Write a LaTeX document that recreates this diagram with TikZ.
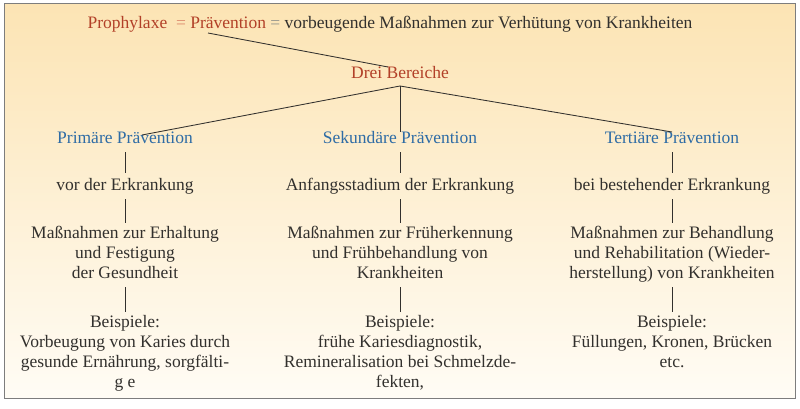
\documentclass[tikz,border=0pt]{standalone}
\usepackage{fontspec}
\setmainfont{Liberation Serif}
\usepackage{tikz}
\usetikzlibrary{positioning}
\definecolor{bgtop}{RGB}{252,228,180}
\definecolor{bgbot}{RGB}{255,252,245}
\definecolor{frame}{RGB}{125,125,125}
\definecolor{redtxt}{RGB}{178,64,40}
\definecolor{eqred}{RGB}{222,140,110}
\definecolor{eqgray}{RGB}{150,150,140}
\definecolor{bluetxt}{RGB}{46,108,165}
\definecolor{inktxt}{RGB}{50,48,45}
\newcommand{\txtfont}{\fontsize{17.5}{20}\selectfont}
\tikzset{
  txt/.style     = {inner sep=0pt, outer sep=3pt, align=center, anchor=north,
                    font=\txtfont, text=inktxt,
                    execute at begin node=\strut, execute at end node=\strut},
  head/.style    = {txt, text=bluetxt},
  EdgeStyle/.style = {draw=inktxt, line width=0.85pt}
}

\begin{document}
\begin{tikzpicture}[x=1pt,y=-1pt]
	\useasboundingbox (0,0) rectangle (800,409);
	\shade[top color=bgtop, bottom color=bgbot] (4,4) rectangle (795,398);
	\draw[frame, line width=1pt] (4,4) rectangle (795,398);
	% title and the three areas
	\node[txt] (title) at (390,12) {{\color{redtxt}Prophylaxe}\ \ {\color{eqred}=}\ {\color{redtxt}Prävention} {\color{eqgray}=} vorbeugende Maßnahmen zur Verhütung von Krankheiten};
	\coordinate (pv) at (208,33);
	\node[txt, text=redtxt] (drei) at (400,62) {Drei Bereiche};
	\node[head] (prim) at (125,126) {Primäre Prävention};
	\node[head] (sek) at (400,126) {Sekundäre Prävention};
	\node[head] (tert) at (672,126) {Tertiäre Prävention};
	% when
	\node[txt] (primwann) at (125,173) {vor der Erkrankung};
	\node[txt] (sekwann) at (400,173) {Anfangsstadium der Erkrankung};
	\node[txt] (tertwann) at (672,173) {bei bestehender Erkrankung};
	% measures
	\node[txt] (primziel) at (125,223) {Maßnahmen zur Erhaltung\\und Festigung\\der Gesundheit};
	\node[txt] (sekziel) at (400,223) {Maßnahmen zur Früherkennung\\und Frühbehandlung von\\Krankheiten};
	\node[txt] (tertziel) at (672,223) {Maßnahmen zur Behandlung\\und Rehabilitation (Wieder-\\herstellung) von Krankheiten};
	% examples
	\node[txt] (primbsp) at (125,312) {Beispiele:\\Vorbeugung von Karies durch\\gesunde Ernährung, sorgfälti-\\g e};
	\node[txt] (sekbsp) at (400,312) {Beispiele:\\frühe Kariesdiagnostik,\\Remineralisation bei Schmelzde-\\fekten,};
	\node[txt] (tertbsp) at (672,312) {Beispiele:\\Füllungen, Kronen, Brücken\\etc.};
	\draw[EdgeStyle] (pv) -- ([shift={(-12,5)}]drei.north);
	\draw[EdgeStyle] ([shift={(0,-2)}]drei.south) -- ([shift={(17,9)}]prim.north);
	\draw[EdgeStyle] ([shift={(0,-2)}]drei.south) -- ([shift={(0,6)}]sek.north);
	\draw[EdgeStyle] ([shift={(0,-2)}]drei.south) -- ([shift={(0,6)}]tert.north);
	\draw[EdgeStyle] (prim) -- (primwann);
	\draw[EdgeStyle] (sek) -- (sekwann);
	\draw[EdgeStyle] (tert) -- (tertwann);
	\draw[EdgeStyle] (primwann) -- (primziel);
	\draw[EdgeStyle] (sekwann) -- (sekziel);
	\draw[EdgeStyle] (tertwann) -- (tertziel);
	\draw[EdgeStyle] (primziel) -- (primbsp);
	\draw[EdgeStyle] (sekziel) -- (sekbsp);
	\draw[EdgeStyle] (tertziel) -- (tertbsp);
\end{tikzpicture}
\end{document}
